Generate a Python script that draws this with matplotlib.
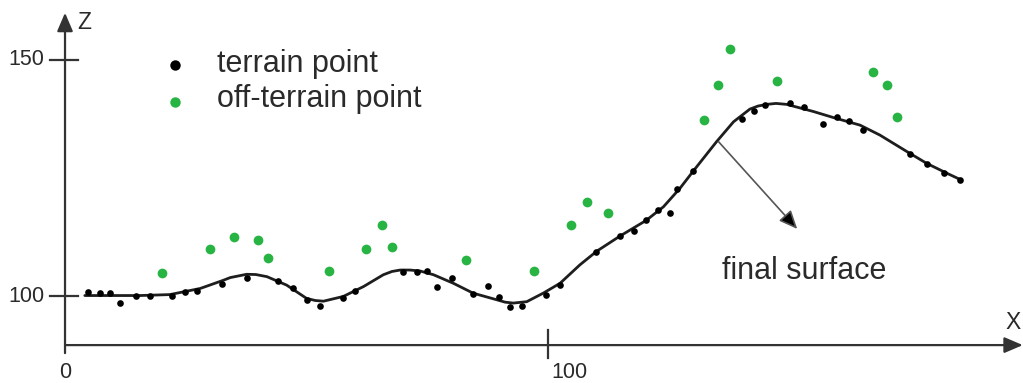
import numpy as np
import matplotlib
matplotlib.use("Agg")
from matplotlib import pyplot as plt

# terrain points (x, z)
terrain_x = [4.8, 7.3, 9.3, 11.4, 14.8, 17.6, 22.1, 24.8, 27.3, 32.4, 37.6, 44.2, 47.3,
             50.0, 52.7, 57.6, 60.0, 70.0, 72.8, 74.9, 77.0, 80.1, 84.5, 87.5, 89.9,
             92.1, 94.7, 99.6, 102.5, 109.9, 114.9, 117.7, 120.3, 122.8, 125.3, 126.8,
             130.0, 140.1, 142.7, 144.9, 150.0, 153.0, 157.0, 159.8, 162.4, 165.3,
             175.0, 178.4, 182.0, 185.2]
terrain_z = [100.8, 100.6, 100.6, 98.6, 100.0, 100.1, 99.9, 100.9, 101.1, 102.5, 103.9,
             103.2, 101.6, 99.2, 97.9, 99.6, 101.1, 105.0, 105.0, 105.2, 102.0, 103.8,
             100.4, 102.1, 99.7, 97.7, 97.9, 100.2, 102.3, 109.4, 112.7, 113.8, 116.0,
             118.2, 117.5, 122.7, 126.5, 137.4, 139.3, 140.5, 140.8, 140.0, 136.4,
             138.0, 137.1, 135.2, 130.0, 128.0, 126.1, 124.6]

# off-terrain points
off_x = [20.0, 30.0, 35.0, 39.9, 42.1, 54.7, 62.3, 65.6, 67.8, 83.0, 97.2, 104.8,
         108.0, 112.5, 132.3, 135.1, 137.7, 147.5, 167.2, 170.1, 172.3]
off_z = [104.9, 110.0, 112.4, 111.8, 108.0, 105.2, 109.9, 115.0, 110.3, 107.6, 105.3,
         115.0, 120.0, 117.5, 137.3, 144.7, 152.3, 145.6, 147.4, 144.6, 137.9]

# final surface
surf_x = [4.1, 9.3, 15.5, 21.7, 28.0, 32.7, 34.2, 37.6, 39.5, 41.8, 45.9, 50.0, 51.8,
          53.5, 57.6, 61.8, 65.9, 67.7, 69.4, 71.4, 73.5, 76.3, 80.4, 84.5, 89.4,
          91.1, 92.8, 95.6, 99.0, 102.5, 106.6, 110.1, 114.9, 120.3, 123.9, 127.3,
          130.1, 134.9, 138.4, 141.8, 143.5, 145.3, 147.2, 149.4, 154.9, 159.1,
          164.6, 168.7, 174.3, 178.4, 182.6, 185.3]
surf_z = [100.1, 100.1, 100.1, 100.3, 101.6, 103.3, 103.9, 104.6, 104.55, 104.1, 102.3,
          99.5, 99.05, 98.9, 99.9, 102.0, 104.5, 105.2, 105.5, 105.5, 105.3, 104.5,
          102.7, 100.6, 99.2, 98.7, 98.5, 98.8, 100.6, 102.7, 106.6, 109.5, 112.7,
          116.0, 118.9, 122.8, 126.5, 132.7, 136.9, 139.6, 140.25, 140.6, 140.8,
          140.6, 139.1, 137.8, 136.2, 134.1, 130.6, 128.1, 126.0, 124.7]

x_ticks = [0, 100]
z_ticks = [100, 150]

plt.rcParams['font.family'] = ['Liberation Sans', 'DejaVu Sans']
txt = '#2a2a2a'
green = '#27b443'

fig = plt.figure(figsize=(10.23, 3.83), dpi=100)
ax = fig.add_axes([0, 0, 1, 1])
ax.set_xlim(-13.46, 198.34)
ax.set_ylim(81.57, 162.71)
ax.axis('off')

# hand-drawn axes with arrows
x_axis_z = 89.6
ax.annotate('', xy=(198.3, x_axis_z), xytext=(0, x_axis_z),
            arrowprops=dict(arrowstyle='-|>,head_length=0.7,head_width=0.3',
                            color='#333333', lw=1.6, mutation_scale=16,
                            shrinkA=0, shrinkB=0))
ax.annotate('', xy=(0, 160.0), xytext=(0, 87.9),
            arrowprops=dict(arrowstyle='-|>,head_length=0.7,head_width=0.3',
                            color='#333333', lw=1.6, mutation_scale=16,
                            shrinkA=0, shrinkB=0))
for zt in z_ticks:
    ax.plot([-3.2, 2.6], [zt, zt], color='#333333', lw=1.6)
    ax.text(-4.3, zt, str(zt), ha='right', va='center', fontsize=15.5, color=txt)
for xt in x_ticks[1:]:
    ax.plot([xt, xt], [86.9, 92.8], color='#333333', lw=1.6)
ax.text(0, 83.9, '0', ha='center', va='center', fontsize=15.5, color=txt)
ax.text(104.5, 83.9, '100', ha='center', va='center', fontsize=15.5, color=txt)
ax.text(3.9, 158.0, 'Z', ha='center', va='center', fontsize=16.5, color=txt)
ax.text(196.2, 94.3, 'X', ha='center', va='center', fontsize=16.5, color=txt)

# surface and points
ax.plot(surf_x, surf_z, color='#1e1e1e', lw=2.0, solid_joinstyle='round',
        solid_capstyle='round', zorder=3)
ax.plot(terrain_x, terrain_z, 'o', color='black', ms=4.8, mec='none', zorder=4)
ax.plot(off_x, off_z, 'o', color=green, ms=7, mec='none', zorder=4)

# legend drawn by hand
ax.plot([22.8], [148.9], 'o', color='black', ms=7.5, mec='none')
ax.plot([22.8], [141.2], 'o', color=green, ms=7.5, mec='none')
ax.text(31.5, 147.5, 'terrain point', ha='left', va='baseline', fontsize=22, color=txt)
ax.text(31.5, 140.1, 'off-terrain point', ha='left', va='baseline', fontsize=22, color=txt)

# final surface label
ax.annotate('', xy=(151.6, 114.2), xytext=(135.3, 132.7),
            arrowprops=dict(arrowstyle='-|>,head_length=0.8,head_width=0.35',
                            color='#555555', lw=1.2, mutation_scale=14,
                            fc='black', shrinkA=0, shrinkB=0))
ax.text(136.0, 105.3, 'final surface', ha='left', va='center', fontsize=22, color=txt)

fig.savefig('out.png', dpi=100)
